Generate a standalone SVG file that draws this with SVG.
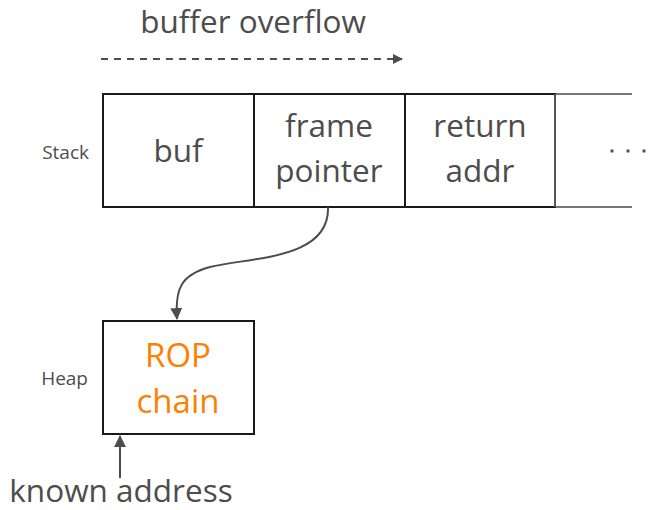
<svg xmlns="http://www.w3.org/2000/svg" width="648" height="510" viewBox="0 0 648 510">
<style>
text{font-family:"Open Sans","DejaVu Sans",sans-serif;fill:#4d4d4d}
.big{font-size:31.5px;text-anchor:middle}
.lbl{font-size:19px;text-anchor:end}
.box{fill:#fff;stroke:#1a1a1a;stroke-width:2}
.conn{fill:none;stroke:#4d4d4d;stroke-width:2}
</style>
<defs>
<marker id="ah" viewBox="0 0 10 10" refX="9" refY="5" markerWidth="10" markerHeight="10" markerUnits="userSpaceOnUse" orient="auto"><path d="M0,0L10,5L0,10z" fill="#4d4d4d"/></marker>
<marker id="ahb" viewBox="0 0 12 12" refX="11" refY="6" markerWidth="12" markerHeight="14" markerUnits="userSpaceOnUse" orient="auto"><path d="M0,0L12,6L0,12z" fill="#4d4d4d"/></marker>
</defs>
<text class="big" x="253" y="33">buffer overflow</text>
<text class="lbl" x="89" y="159">Stack</text>
<text class="lbl" x="88" y="385">Heap</text>
<g id="ext">
<line x1="555" y1="94" x2="632" y2="94" stroke="#777" stroke-width="2"/>
<line x1="555" y1="207" x2="632" y2="207" stroke="#777" stroke-width="2"/>
<rect x="610.5" y="149.5" width="3" height="3" fill="#555"/>
<rect x="626.5" y="149.5" width="3" height="3" fill="#555"/>
<rect x="642.5" y="149.5" width="3" height="3" fill="#555"/>
</g>
<g id="buf"><rect class="box" x="103" y="94" width="151" height="113"/><text class="big" x="178" y="162">buf</text></g>
<g id="fp"><rect class="box" x="254" y="94" width="151" height="113"/><text class="big" x="329" y="137">frame</text><text class="big" x="329" y="182">pointer</text></g>
<g id="ret"><rect class="box" x="405" y="94" width="150" height="113"/><text class="big" x="480" y="137">return</text><text class="big" x="480" y="182">addr</text></g>
<line x1="555" y1="94" x2="555" y2="207" stroke="#555" stroke-width="2"/>
<g id="rop"><rect class="box" x="103" y="321" width="151" height="113"/><text class="big" x="178" y="367" style="fill:#ff8000;font-size:33px">ROP</text><text class="big" x="178" y="413" style="fill:#ff8000;font-size:33px">chain</text></g>
<g id="known"><text class="big" x="121" y="502">known address</text></g>
<g id="connectors">
<line class="conn" x1="101" y1="59" x2="402" y2="59" stroke-dasharray="7,6" marker-end="url(#ah)"/>
<path class="conn" d="M328,207 C330,260 250,257 210,267 C180,275 175,290 177,319" marker-end="url(#ahb)"/>
<line class="conn" x1="120" y1="478" x2="120" y2="436" marker-end="url(#ahb)"/>
</g>
</svg>
